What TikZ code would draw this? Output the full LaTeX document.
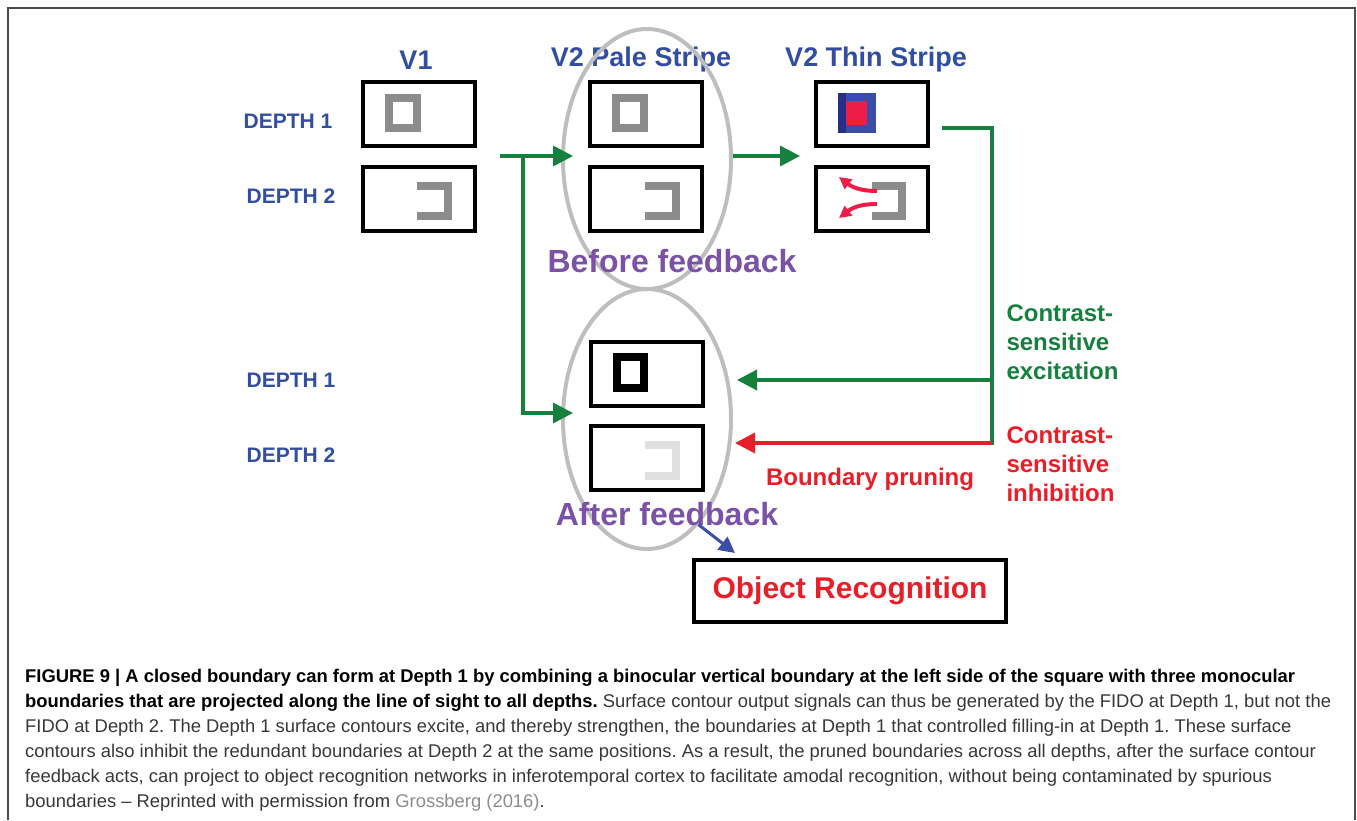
\documentclass[tikz,border=0pt]{standalone}
\usepackage{fontspec}
\setmainfont{Liberation Sans}
\usetikzlibrary{shapes.geometric,arrows.meta}
\definecolor{labblue}{RGB}{50,78,162}
\definecolor{darkblue}{RGB}{40,45,135}
\definecolor{sqblue}{RGB}{58,78,165}
\definecolor{fbgreen}{RGB}{22,128,62}
\definecolor{fbred}{RGB}{232,30,40}
\definecolor{pink}{RGB}{236,30,72}
\definecolor{purple}{RGB}{123,82,166}
\definecolor{ringgray}{RGB}{190,190,190}
\definecolor{shapegray}{RGB}{140,140,140}
\definecolor{faintgray}{RGB}{224,224,224}
\definecolor{captext}{RGB}{55,55,55}
\tikzstyle{block} = [rectangle, draw, line width=4pt, minimum width=112pt, minimum height=64pt, inner sep=0pt]
\tikzstyle{ring} = [ellipse, draw=ringgray, line width=4pt, minimum width=168pt, minimum height=260pt, inner sep=0pt]
\tikzstyle{line} = [draw, line width=3.5pt, -{Triangle[length=20pt,width=20pt]}]
\tikzstyle{head} = [text=labblue, font=\bfseries\fontsize{27}{30}\selectfont]
\tikzstyle{depth} = [text=labblue, font=\bfseries\fontsize{21}{24}\selectfont]
\tikzstyle{phase} = [text=purple, font=\bfseries\fontsize{32}{36}\selectfont]
\tikzstyle{note} = [align=left, anchor=north west, font=\bfseries\fontsize{24}{29}\selectfont]
\frenchspacing

\begin{document}
\begin{tikzpicture}[x=1pt, y=-1pt]
\useasboundingbox (0,0) rectangle (1357,820);
\draw [line width=2pt, black!70] (8,820) -- (8,8) -- (1355,8) -- (1355,820);

\node [head] at (416,60) (v1label) {V1};
\node [head] at (641,60) (palelabel) {V2 Pale Stripe};
\node [head] at (876,60) (thinlabel) {V2 Thin Stripe};

\node [depth] at (288,121) (depthone) {DEPTH 1};
\node [depth] at (291,196) (depthtwo) {DEPTH 2};
\node [depth] at (291,380) (afterdepthone) {DEPTH 1};
\node [depth] at (291,455) (afterdepthtwo) {DEPTH 2};

\node [ring] at (647,159) (before) {};
\node [ring] at (647,419) (after) {};

\node [block] at (419,114) (v1one) {};
\node [block] at (419,199) (v1two) {};
\node [block] at (646,114) (paleone) {};
\node [block] at (646,199) (paletwo) {};
\node [block] at (872,114) (thinone) {};
\node [block] at (872,199) (thintwo) {};
\node [block] at (647,374) (afterone) {};
\node [block] at (647,458) (aftertwo) {};

\draw [shapegray, line width=8pt] (389,98) rectangle (417,128);
\draw [shapegray, line width=8pt] (417,186) -- (448,186) -- (448,216) -- (417,216);
\draw [shapegray, line width=8pt] (616,98) rectangle (644,128);
\draw [shapegray, line width=8pt] (645,186) -- (676,186) -- (676,216) -- (645,216);
\fill [sqblue] (838,93) rectangle (876,133);
\fill [darkblue] (838,93) rectangle (846,133);
\fill [pink] (846,101) rectangle (867,125);
\draw [shapegray, line width=8pt] (872,186) -- (902,186) -- (902,216) -- (872,216);
\draw [pink, line width=4pt, -{Triangle[length=12pt,width=12pt]}] (877,191) .. controls (860,191) and (852,187) .. (839,177);
\draw [pink, line width=4pt, -{Triangle[length=12pt,width=12pt]}] (877,204) .. controls (860,204) and (852,208) .. (839,218);
\draw [line width=8pt] (617,357) rectangle (644,388);
\draw [faintgray, line width=8pt] (645,445) -- (676,445) -- (676,476) -- (645,476);

\node [phase] at (672,261) (beforetext) {Before feedback};
\node [phase] at (667,514) (aftertext) {After feedback};

\coordinate (split) at (500,156);
\coordinate (branch) at (523,156);
\coordinate (out) at (942,128);
\coordinate (corner) at (992,128);
\draw [line, fbgreen] (split) -- ([xshift=12pt]before.west |- split);
\draw [line, fbgreen] (branch) |- ([xshift=12pt, yshift=6pt]after.west);
\draw [line, fbgreen] (before.east |- split) -- ([xshift=-14pt]thinone.west |- split);
\draw [line width=3.5pt, fbgreen] (out) -- (corner) -- (corner |- 0,445);
\draw [line, fbgreen] (corner |- 0,380) -- ([xshift=4pt, yshift=39pt]after.east);
\draw [line, fbred] (corner |- 0,443) -- ([xshift=2pt, yshift=-24pt]after.east);

\node [note, text=fbgreen] at (1003,301) (excitation) {Contrast-\\sensitive\\excitation};
\node [note, text=fbred] at (1003,423) (inhibition) {Contrast-\\sensitive\\inhibition};
\node [text=fbred, font=\bfseries\fontsize{24}{29}\selectfont] at (870,479) (pruning) {Boundary pruning};

\node [block, minimum width=312pt, minimum height=62pt, text=fbred, font=\bfseries\fontsize{30}{34}\selectfont] at (850,591) (recognition) {Object Recognition};
\draw [line width=3pt, draw=sqblue, -{Triangle[length=16pt,width=16pt]}, sqblue] (after.-64) -- ([xshift=43pt, yshift=5pt]recognition.north west);

\node [anchor=north west, align=left, inner sep=0pt, text=captext, font=\fontsize{18.4}{25}\selectfont] at (25,669) (caption) {%
\textcolor{black}{\textbf{FIGURE 9 {\textbar} A closed boundary can form at Depth 1 by combining a binocular vertical boundary at the left side of the square with three monocular}}\\
\textcolor{black}{\textbf{boundaries that are projected along the line of sight to all depths.}} Surface contour output signals can thus be generated by the FIDO at Depth 1, but not the\\
FIDO at Depth 2. The Depth 1 surface contours excite, and thereby strengthen, the boundaries at Depth 1 that controlled filling-in at Depth 1. These surface\\
contours also inhibit the redundant boundaries at Depth 2 at the same positions. As a result, the pruned boundaries across all depths, after the surface contour\\
feedback acts, can project to object recognition networks in inferotemporal cortex to facilitate amodal recognition, without being contaminated by spurious\\
boundaries -- Reprinted with permission from \textcolor{black!45}{Grossberg (2016)}.};
\end{tikzpicture}
\end{document}
